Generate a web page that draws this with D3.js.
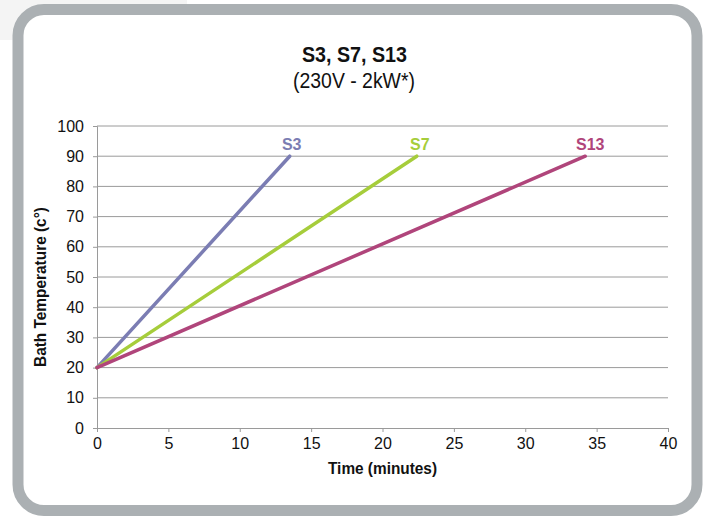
<!DOCTYPE html>
<html>
<head>
<meta charset="utf-8">
<script src="https://cdn.jsdelivr.net/npm/d3@7"></script>
<style>
  html, body { margin: 0; padding: 0; background: #fff; }
  svg { display: block; }
</style>
</head>
<body>
<script>
// chart data
const seriesNames = ["S3", "S7", "S13"];
const seriesColors = ["#7b7db3", "#a6cd3b", "#b0457b"];
const startTime = [0, 0, 0];
const endTime = [13.5, 22.4, 34.2];
const startTemp = [20, 20, 20];
const endTemp = [90, 90, 90];
const xTicks = [0, 5, 10, 15, 20, 25, 30, 35, 40];
const yTicks = [0, 10, 20, 30, 40, 50, 60, 70, 80, 90, 100];

const width = 707, height = 516;
const margin = { top: 126, right: 39, bottom: 88, left: 97 };
const font = "'Liberation Sans', Arial, sans-serif";

const svg = d3.select("body").append("svg")
  .attr("width", width)
  .attr("height", height)
  .attr("viewBox", [0, 0, width, height]);

// light background strip behind the frame, top-left
svg.append("rect")
  .attr("x", 0).attr("y", 0)
  .attr("width", 187).attr("height", 40)
  .attr("fill", "#f4f4f4");

// framed panel
svg.append("rect")
  .attr("x", 18).attr("y", 9.5)
  .attr("width", 679).attr("height", 501)
  .attr("rx", 26).attr("ry", 26)
  .attr("fill", "#fff")
  .attr("stroke", "#abb0b3")
  .attr("stroke-width", 11);

const x = d3.scaleLinear().domain([0, 40]).range([margin.left, width - margin.right]);
const y = d3.scaleLinear().domain([0, 100]).range([height - margin.bottom, margin.top]);

// gridlines
svg.append("g")
  .selectAll("line")
  .data(yTicks.filter((d) => d > 0))
  .join("line")
  .attr("x1", x(0)).attr("x2", x(40))
  .attr("y1", (d) => y(d)).attr("y2", (d) => y(d))
  .attr("stroke", "#9a9a9a")
  .attr("stroke-width", 1);

// y axis
const yAxis = svg.append("g")
  .attr("transform", `translate(${x(0)},0)`)
  .call(d3.axisLeft(y).tickValues(yTicks).tickSize(4).tickPadding(9));
yAxis.select(".domain").attr("stroke", "#9a9a9a");
yAxis.selectAll(".tick line").attr("stroke", "#9a9a9a");
yAxis.selectAll("text")
  .attr("font-family", font)
  .attr("font-size", 16)
  .attr("fill", "#111");

// x axis
const xAxis = svg.append("g")
  .attr("transform", `translate(0,${y(0)})`)
  .call(d3.axisBottom(x).tickValues(xTicks).tickSize(4).tickPadding(6));
xAxis.select(".domain").attr("stroke", "#9a9a9a");
xAxis.selectAll(".tick line").attr("stroke", "#9a9a9a");
xAxis.selectAll("text")
  .attr("font-family", font)
  .attr("font-size", 16)
  .attr("fill", "#111");

// series lines
const lines = seriesNames.map((name, i) => ({
  name,
  color: seriesColors[i],
  points: [[startTime[i], startTemp[i]], [endTime[i], endTemp[i]]],
}));

svg.append("g")
  .selectAll("path")
  .data(lines)
  .join("path")
  .attr("d", (d) => d3.line().x((p) => x(p[0])).y((p) => y(p[1]))(d.points))
  .attr("fill", "none")
  .attr("stroke", (d) => d.color)
  .attr("stroke-width", 3.5)
  .attr("stroke-linecap", "round");

// series labels
const labelShift = [2, 3, 5];
svg.append("g")
  .selectAll("text")
  .data(lines)
  .join("text")
  .attr("x", (d, i) => x(d.points[1][0]) + labelShift[i])
  .attr("y", (d) => y(d.points[1][1]) - 6)
  .attr("text-anchor", "middle")
  .attr("font-family", font)
  .attr("font-weight", "bold")
  .attr("font-size", 16)
  .attr("fill", (d) => d.color)
  .text((d) => d.name);

// titles
svg.append("text")
  .attr("x", 354.5).attr("y", 62)
  .attr("text-anchor", "middle")
  .attr("font-family", font)
  .attr("font-weight", "bold")
  .attr("font-size", 22)
  .attr("textLength", 105)
  .attr("lengthAdjust", "spacingAndGlyphs")
  .attr("fill", "#111")
  .text("S3, S7, S13");

svg.append("text")
  .attr("x", 354).attr("y", 88)
  .attr("text-anchor", "middle")
  .attr("font-family", font)
  .attr("font-size", 22)
  .attr("textLength", 122)
  .attr("lengthAdjust", "spacingAndGlyphs")
  .attr("fill", "#111")
  .text("(230V - 2kW*)");

svg.append("text")
  .attr("x", (x(0) + x(40)) / 2).attr("y", 474)
  .attr("text-anchor", "middle")
  .attr("font-family", font)
  .attr("font-weight", "bold")
  .attr("font-size", 17)
  .attr("textLength", 109)
  .attr("lengthAdjust", "spacingAndGlyphs")
  .attr("fill", "#111")
  .text("Time (minutes)");

svg.append("text")
  .attr("transform", "translate(46,287) rotate(-90)")
  .attr("text-anchor", "middle")
  .attr("font-family", font)
  .attr("font-weight", "bold")
  .attr("font-size", 17)
  .attr("textLength", 160)
  .attr("lengthAdjust", "spacingAndGlyphs")
  .attr("fill", "#111")
  .text("Bath Temperature (c°)");
</script>
</body>
</html>
